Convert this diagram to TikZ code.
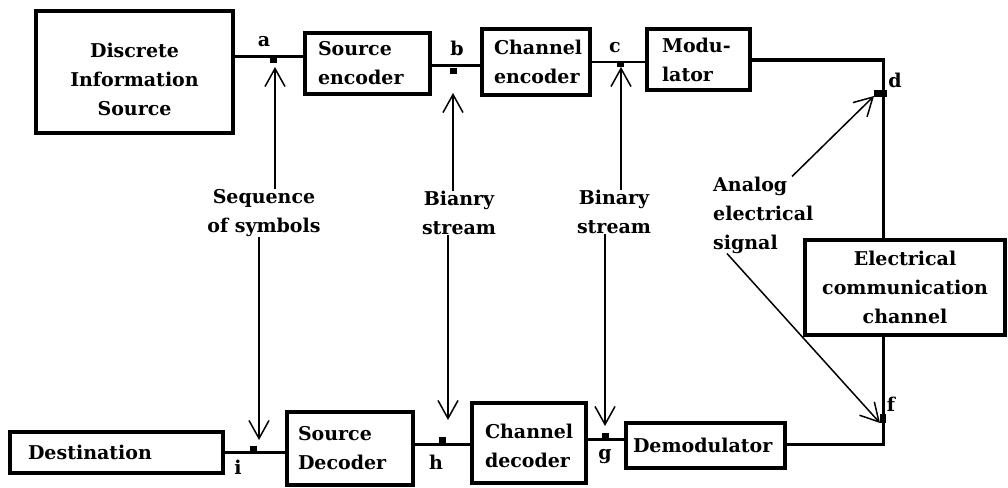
\documentclass[tikz,border=0pt]{standalone}
\usepackage{fontspec}
\setmainfont{DejaVu Serif}
\usetikzlibrary{arrows.meta}
\begin{document}
\begin{tikzpicture}[x=1pt,y=-1pt,
  txt/.style={font=\fontsize{19}{29}\selectfont\bfseries},
  blk/.style={draw, line width=3.5pt, txt, inner ysep=0pt},
  conn/.style={line width=3pt},
  ptr/.style={line width=1.5pt, -{Straight Barb[length=18pt,width=20pt,line width=1.5pt]}},
  mk/.style={fill, minimum width=7pt, minimum height=6pt, inner sep=0pt},
  lbl/.style={txt, inner sep=0pt},
]
\useasboundingbox[fill=white] (0,0) rectangle (1008,487);

% blocks
\node[blk, minimum width=197pt, minimum height=122pt, text width=180pt, inner xsep=8.5pt, align=center, text height=30pt] (dis) at (134.5,72) {Discrete\\Information\\Source};
\node[blk, minimum width=125pt, minimum height=61pt, text width=99pt, inner xsep=13pt, align=left] (senc) at (367.5,63.5) {Source\\encoder};
\node[blk, minimum width=108pt, minimum height=66pt, text width=84pt, inner xsep=11pt, align=left] (cenc) at (536,62) {Channel\\encoder};
\node[blk, minimum width=103pt, minimum height=61pt, text width=73pt, inner xsep=14pt, align=left] (mod) at (698.5,59.5) {Modu-\\lator};
\node[blk, minimum width=200pt, minimum height=95pt, text width=190pt, inner xsep=5pt, align=center] (ecc) at (905,287.5) {Electrical\\communication\\channel};
\node[blk, minimum width=159pt, minimum height=45pt, text width=145pt, inner xsep=7pt, align=left] (dem) at (705.5,445.5) {Demodulator};
\node[blk, minimum width=114pt, minimum height=80pt, text width=88pt, inner xsep=11pt, align=left, text depth=24pt] (cdec) at (529,443) {Channel\\decoder};
\node[blk, minimum width=126pt, minimum height=73pt, text width=104pt, inner xsep=10pt, align=left] (sdec) at (350,448.5) {Source\\Decoder};
\node[blk, minimum width=213pt, minimum height=41pt, text width=177pt, inner xsep=17pt, align=left] (dest) at (116.5,452.5) {Destination};

% junction markers
\node[mk] (a) at (273,60) {};
\node[mk] (b) at (453,71) {};
\node[mk] (c) at (620,64) {};
\node[mk, minimum width=13pt, minimum height=7pt] (d) at (880,93) {};
\node[mk, minimum width=6pt, minimum height=9pt] (f) at (883,418) {};
\node[mk] (g) at (605,436) {};
\node[mk] (h) at (442,440) {};
\node[mk] (i) at (253,449) {};
\coordinate (tr) at (883,60);
\coordinate (br) at (883,444);

% connectors
\draw[conn] (dis.east |- 0,57) -- (senc.west |- 0,57);
\draw[conn] (senc.east |- 0,65) -- (cenc.west |- 0,65);
\draw[conn, line width=2.5pt] (cenc.east |- 0,62) -- (mod.west |- 0,62);
\draw[conn] (mod.east |- tr) -- (tr) -- (ecc.north -| tr);
\draw[conn] (ecc.south -| br) -- (br) -- (dem.east |- br);
\draw[conn] (dem.west |- 0,439) -- (cdec.east |- 0,439);
\draw[conn] (cdec.west |- 0,444) -- (sdec.east |- 0,444);
\draw[conn] (sdec.west |- 0,452) -- (dest.east |- 0,452);

% point letters
\node[lbl] (la) at (264,42) {a};
\node[lbl] (lb) at (457,48) {b};
\node[lbl] (lc) at (615,48) {c};
\node[lbl] (ld) at (895,80) {d};
\node[lbl] (lf) at (891,404) {f};
\node[lbl] (lg) at (605,457) {g};
\node[lbl] (lh) at (436,462) {h};
\node[lbl] (li) at (238,467) {i};

% descriptive labels
\node[lbl, align=center] (seq) at (264,213) {Sequence\\of symbols};
\node[lbl, align=center] (bs1) at (459,213) {Bianry\\stream};
\node[lbl, align=center] (bs2) at (614,212) {Binary\\stream};
\node[lbl, align=left, anchor=west] (ana) at (713,215) {Analog\\electrical\\signal};

% arrow tips
\coordinate (aT) at (275,67);
\coordinate (bT) at (453,93);
\coordinate (cT) at (621,67);
\coordinate (dT) at (874,96);
\coordinate (fT) at (880,423);
\coordinate (gT) at (605,426);
\coordinate (hT) at (448,420);
\coordinate (iT) at (259,440);

\draw[ptr] (seq.north -| aT) -- (aT);
\draw[ptr] (seq.south -| iT) -- (iT);
\draw[ptr] (bs1.north -| bT) -- (bT);
\draw[ptr] (bs1.south -| hT) -- (hT);
\draw[ptr] (bs2.north -| cT) -- (cT);
\draw[ptr] (bs2.south -| gT) -- (gT);
\draw[ptr] (ana.north west) ++(79,0) coordinate (anaS) (anaS) -- (dT);
\draw[ptr] (ana.south west) ++(14,0) coordinate (sigS) (sigS) -- (fT);
\end{tikzpicture}
\end{document}
